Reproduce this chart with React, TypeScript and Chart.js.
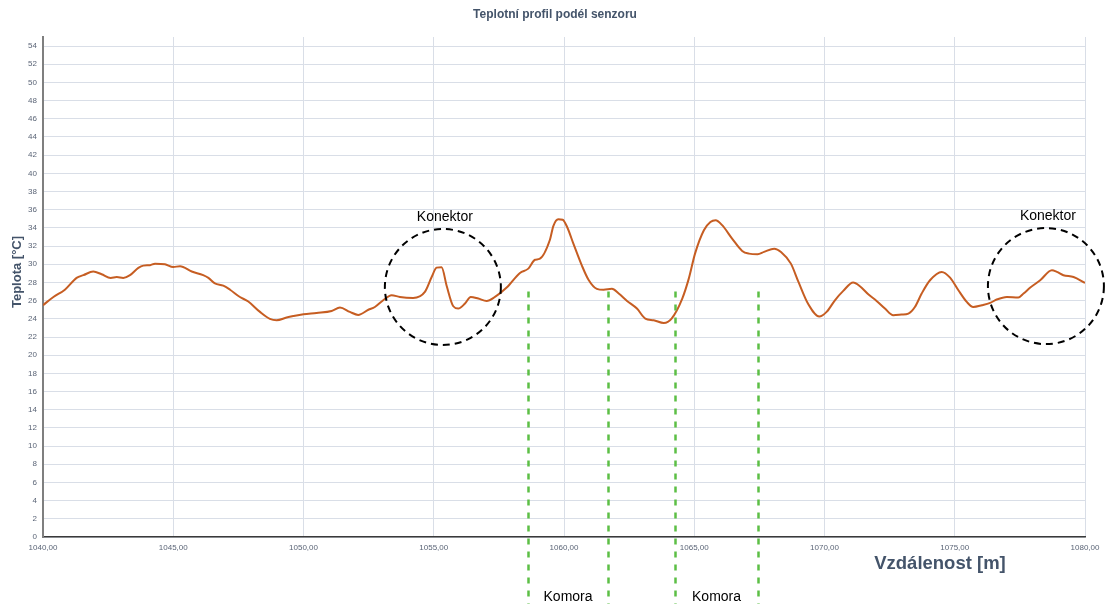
import React, { useEffect, useRef } from "react";
import { Chart, registerables } from "chart.js";

Chart.register(...registerables);

const distances = [
  1040.0, 1040.4, 1040.84, 1041.29, 1041.55, 1041.93, 1042.25, 1042.6, 1042.83, 1043.08,
  1043.34, 1043.66, 1043.85, 1044.11, 1044.3, 1044.68, 1045.0, 1045.26, 1045.71, 1046.15,
  1046.35, 1046.6, 1046.92, 1047.18, 1047.56, 1047.88, 1048.33, 1048.71, 1048.97, 1049.35,
  1049.61, 1050.0, 1050.5, 1051.08, 1051.4, 1051.78, 1052.1, 1052.49, 1052.74, 1053.06,
  1053.38, 1053.7, 1054.21, 1054.66, 1054.92, 1055.11, 1055.3, 1055.5, 1055.75, 1055.94,
  1056.2, 1056.42, 1056.71, 1057.03, 1057.35, 1057.8, 1058.31, 1058.63, 1058.89, 1059.06,
  1059.46, 1059.59, 1059.78, 1059.95, 1060.12, 1060.36, 1060.68, 1060.94, 1061.26, 1061.52,
  1061.84, 1062.1, 1062.42, 1062.8, 1063.12, 1063.44, 1063.83, 1064.13, 1064.54, 1064.79,
  1065.03, 1065.37, 1065.62, 1065.82, 1066.07, 1066.46, 1066.84, 1067.1, 1067.43, 1067.68,
  1068.07, 1068.33, 1068.71, 1069.0, 1069.38, 1069.8, 1070.08, 1070.4, 1070.72, 1071.1,
  1071.36, 1071.68, 1072.0, 1072.32, 1072.64, 1072.96, 1073.22, 1073.47, 1073.73, 1074.05,
  1074.5, 1074.82, 1075.14, 1075.46, 1075.71, 1076.04, 1076.36, 1076.61, 1077.0, 1077.44,
  1077.64, 1077.9, 1078.28, 1078.73, 1078.92, 1079.17, 1079.56, 1080.0,
];

const temperatures = [
  25.5, 26.4, 27.2, 28.5, 28.8, 29.2, 28.9, 28.5, 28.6, 28.5,
  28.8, 29.6, 29.85, 29.9, 30.07, 30.0, 29.7, 29.78, 29.2, 28.8,
  28.5, 27.9, 27.65, 27.2, 26.4, 25.9, 24.76, 24.0, 23.85, 24.14,
  24.3, 24.5, 24.65, 24.87, 25.24, 24.76, 24.43, 25.0, 25.3, 26.04,
  26.6, 26.4, 26.3, 26.96, 28.6, 29.63, 29.67, 27.58, 25.38, 25.13,
  25.68, 26.41, 26.23, 25.97, 26.41, 27.44, 29.05, 29.52, 30.5, 30.59,
  32.7, 34.2, 34.95, 34.9, 34.1, 32.27, 29.9, 28.3, 27.3, 27.2,
  27.3, 26.78, 25.97, 25.13, 24.03, 23.85, 23.55, 24.03, 26.23, 28.42,
  31.17, 33.74, 34.65, 34.84, 34.3, 32.8, 31.47, 31.17, 31.1, 31.36,
  31.72, 31.36, 30.07, 28.06, 25.6, 24.25, 24.76, 26.04, 27.07, 27.99,
  27.58, 26.7, 25.97, 25.13, 24.4, 24.47, 24.58, 25.3, 26.78, 28.24,
  29.16, 28.53, 27.14, 25.86, 25.3, 25.49, 25.75, 26.12, 26.41, 26.34,
  26.78, 27.44, 28.24, 29.34, 29.16, 28.8, 28.6, 27.95,
];

const xTicks = [1040, 1045, 1050, 1055, 1060, 1065, 1070, 1075, 1080];
const yTicks = [0, 2, 4, 6, 8, 10, 12, 14, 16, 18, 20, 22, 24, 26, 28, 30, 32, 34, 36, 38, 40, 42, 44, 46, 48, 50, 52, 54];
const yMax = 55;
const chamberBounds = [1058.62, 1061.69, 1064.26, 1067.45];
const chamberTopTemp = 27;
const chamberLabels = ["Komora", "Komora"];
const connectorX = [1055.35, 1078.5];
const connectorY = [27.5, 27.6];
const connectorLabels = ["Konektor", "Konektor"];

const TITLE = "Teplotní profil podél senzoru";
const Y_TITLE = "Teplota [°C]";
const X_TITLE = "Vzdálenost [m]";

const annotationPlugin = {
  id: "annotations",
  afterDraw(chart: any) {
    const ctx = chart.ctx as CanvasRenderingContext2D;
    const xs = chart.scales.x;
    const ys = chart.scales.y;
    ctx.save();

    // Title
    ctx.fillStyle = "#44546a";
    ctx.font = "bold 12px 'Liberation Sans', Arial, sans-serif";
    ctx.textAlign = "center";
    ctx.textBaseline = "middle";
    ctx.fillText(TITLE, 555, 15);

    // Y title
    ctx.save();
    ctx.translate(17, 272);
    ctx.rotate(-Math.PI / 2);
    ctx.font = "bold 13px 'Liberation Sans', Arial, sans-serif";
    ctx.fillText(Y_TITLE, 0, 0);
    ctx.restore();

    // X title
    ctx.font = "bold 18.5px 'Liberation Sans', Arial, sans-serif";
    ctx.fillText(X_TITLE, 940, 564);

    // Chamber lines
    ctx.strokeStyle = "#5cbf45";
    ctx.lineWidth = 2.5;
    ctx.setLineDash([6, 7]);
    const top = ys.getPixelForValue(chamberTopTemp);
    chamberBounds.forEach((b) => {
      const px = Math.round(xs.getPixelForValue(b)) + 0.5;
      ctx.beginPath();
      ctx.moveTo(px, top);
      ctx.lineTo(px, 604);
      ctx.stroke();
    });
    ctx.setLineDash([]);
    ctx.fillStyle = "#000";
    ctx.font = "14px 'Liberation Sans', Arial, sans-serif";
    chamberLabels.forEach((lbl, i) => {
      const a = xs.getPixelForValue(chamberBounds[i * 2]);
      const b = xs.getPixelForValue(chamberBounds[i * 2 + 1]);
      ctx.fillText(lbl, (a + b) / 2, 597);
    });

    // Connector circles
    ctx.strokeStyle = "#000";
    ctx.lineWidth = 2;
    ctx.setLineDash([7, 5]);
    connectorX.forEach((cx, i) => {
      const px = xs.getPixelForValue(cx);
      const py = ys.getPixelForValue(connectorY[i]);
      ctx.beginPath();
      ctx.arc(px, py, 58, 0, Math.PI * 2);
      ctx.stroke();
      ctx.fillText(connectorLabels[i], px + 2, py - 70);
    });
    ctx.restore();
  },
};

export default function App() {
  const ref = useRef<HTMLCanvasElement | null>(null);

  useEffect(() => {
    if (!ref.current) return;
    const points = distances.map((d, i) => ({ x: d, y: temperatures[i] }));
    const chart = new Chart(ref.current, {
      type: "line",
      data: {
        datasets: [
          {
            data: points,
            borderColor: "#c65d22",
            borderWidth: 2,
            pointRadius: 0,
            cubicInterpolationMode: "monotone",
            fill: false,
          },
        ],
      },
      options: {
        responsive: false,
        animation: false,
        devicePixelRatio: 1,
        layout: { padding: { left: 0, top: 37, right: 24, bottom: 0 } },
        plugins: {
          legend: { display: false },
          tooltip: { enabled: false },
          title: { display: false },
        },
        scales: {
          x: {
            type: "linear",
            min: xTicks[0],
            max: xTicks[xTicks.length - 1],
            afterBuildTicks: (s: any) => {
              s.ticks = xTicks.map((v) => ({ value: v }));
            },
            afterFit: (s: any) => {
              s.height = 73;
            },
            ticks: {
              maxRotation: 0,
              autoSkip: false,
              padding: 6,
              color: "#5b6577",
              font: { size: 8, family: "'Liberation Sans', Arial, sans-serif" },
              callback: (v: any) => Number(v).toFixed(2).replace(".", ","),
            },
            grid: { color: "#d9dee7", lineWidth: 1, drawTicks: false },
            border: { color: "#3a3a3a", width: 1.5 },
          },
          y: {
            min: 0,
            max: yMax,
            afterBuildTicks: (s: any) => {
              s.ticks = yTicks.map((v) => ({ value: v }));
            },
            afterFit: (s: any) => {
              s.width = 43;
            },
            ticks: {
              autoSkip: false,
              padding: 6,
              color: "#5b6577",
              font: { size: 8, family: "'Liberation Sans', Arial, sans-serif" },
            },
            grid: { color: "#d9dee7", lineWidth: 1, drawTicks: false },
            border: { color: "#7f7f7f", width: 2 },
          },
        },
      },
      plugins: [annotationPlugin],
    } as any);
    return () => chart.destroy();
  }, []);

  return (
    <div style={{ position: "fixed", left: 0, top: 0, width: 1109, height: 610, background: "#fff" }}>
      <canvas ref={ref} width={1109} height={610} style={{ display: "block" }} />
    </div>
  );
}
